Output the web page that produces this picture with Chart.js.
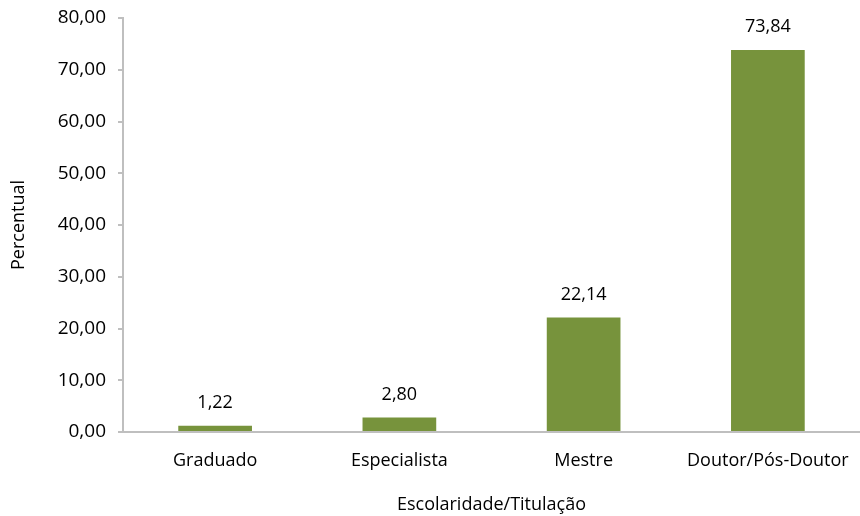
<!DOCTYPE html>
<html><head><meta charset="utf-8">
<script src="https://cdn.jsdelivr.net/npm/chart.js@4/dist/chart.umd.min.js"></script>
<style>html,body{margin:0;padding:0;background:#fff}#wrap{width:860px;height:516px}</style>
</head><body><div id="wrap"><canvas id="c" width="860" height="516"></canvas></div>
<script>
const categories = ["Graduado", "Especialista", "Mestre", "Doutor/Pós-Doutor"];
const values = [1.22, 2.80, 22.14, 73.84];
const yTicks = [0, 10, 20, 30, 40, 50, 60, 70, 80];
const fmt = v => v.toFixed(2).replace('.', ',');
const FONT = "'Open Sans', Lato, sans-serif";
const FS = 18;

const labelPlugin = {
  id: 'vals',
  afterDatasetsDraw(chart) {
    const ctx = chart.ctx;
    const meta = chart.getDatasetMeta(0);
    ctx.save();
    ctx.font = FS + "px " + FONT;
    ctx.fillStyle = "#000";
    ctx.textAlign = "center";
    ctx.textBaseline = "middle";
    meta.data.forEach((bar, i) => {
      ctx.fillText(fmt(values[i]), bar.x, bar.y - 23);
    });
    ctx.restore();
  }
};

new Chart(document.getElementById('c'), {
  type: 'bar',
  data: { labels: categories, datasets: [{ data: values, backgroundColor: '#77933C', categoryPercentage: 1, barPercentage: 0.40 }] },
  options: {
    responsive: false, animation: false,
    layout: { padding: { top: 18, right: 0, left: 0, bottom: 0 } },
    plugins: { legend: { display: false }, tooltip: { enabled: false } },
    scales: {
      x: {
        grid: { display: false },
        border: { display: true, color: '#BFBFBF', width: 2 },
        ticks: { color: '#000', font: { family: FONT, size: FS }, padding: 10 },
        title: { display: true, text: 'Escolaridade/Titulação', color: '#000', font: { family: FONT, size: FS }, padding: { top: 18, bottom: 0 } },
        afterFit(s) { s.height = 84; s.paddingLeft = 0; s.paddingRight = 0; }
      },
      y: {
        min: 0, max: 80,
        afterBuildTicks(s) { s.ticks = yTicks.map(v => ({ value: v })); },
        grid: { drawOnChartArea: false, drawTicks: true, tickLength: 5, color: '#BFBFBF', lineWidth: 2 },
        border: { display: true, color: '#BFBFBF', width: 2 },
        ticks: { color: '#000', font: { family: FONT, size: 19 }, padding: 12, callback: v => fmt(v) },
        title: { display: true, text: 'Percentual', color: '#000', font: { family: FONT, size: FS }, padding: { top: 8, bottom: 8 } },
        afterFit(s) { s.width = 123; s.paddingTop = 0; s.paddingBottom = 0; }
      }
    }
  },
  plugins: [labelPlugin]
});
</script></body></html>
